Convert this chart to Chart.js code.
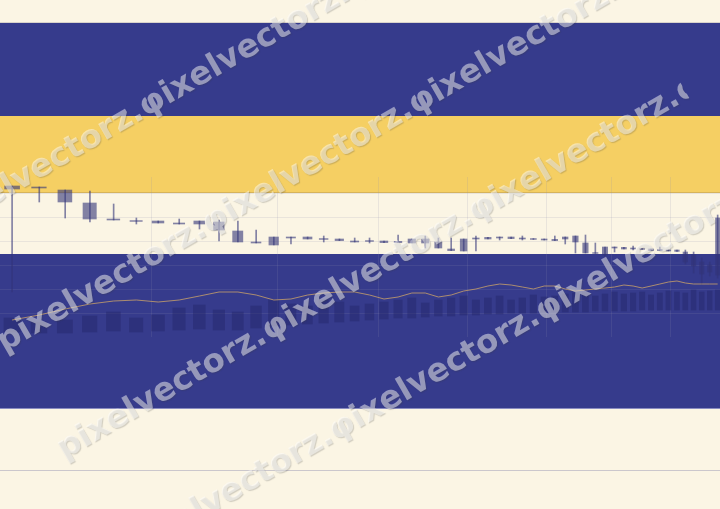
<!DOCTYPE html>
<html>
<head>
<meta charset="utf-8">
<script src="https://cdn.jsdelivr.net/npm/chart.js@4.4.1/dist/chart.umd.min.js"></script>
<style>
  html, body { margin: 0; padding: 0; background: #fbf5e4; }
  canvas { display: block; }
</style>
</head>
<body>
<canvas id="candles" width="720" height="509"></canvas>
<script>
// Session days (x values, log time axis)
const days = [20, 21, 22, 23, 24, 25, 26, 27, 28, 29, 30, 31, 32, 33, 34, 35, 36, 37, 38, 39,
    40, 41, 42, 43, 44, 45, 46, 47, 48, 49, 50, 51, 52, 53, 54, 55, 56, 57, 58, 59,
    60, 61, 62, 63, 64, 65, 66, 67, 68, 69, 70, 71];

const opens = [75.5, 75, 73.5, 67, 59, 58.2, 58, 57, 58, 57.5, 53, 47.5, 50, 50, 50, 49.2, 49, 48, 48.2, 48,
    47.8, 49, 49, 47.5, 44, 49, 49.5, 49.8, 50, 50, 49.5, 49.2, 49, 48.8, 50, 50.5, 47, 42.2, 45, 45,
    44.8, 44.5, 44.2, 44, 43.8, 43.5, 43.5, 42.5, 41, 37.5, 36, 59.5];
const closes = [74, 74.5, 67.5, 59, 58.5, 57.8, 57, 56.5, 56.5, 53.5, 47.5, 47, 46, 49.5, 49, 48.8, 48.2, 47.5, 47.8, 47.2,
    47.2, 47, 47, 44.5, 43.2, 43, 49, 49, 49.5, 49.2, 49, 48.8, 48.5, 48.2, 49, 47.5, 42, 41.8, 41, 44.5,
    44, 44, 43.8, 43.2, 43.2, 43, 42.8, 37.5, 35.5, 31.5, 32.5, 31];
const highs = [75.5, 75, 73.5, 73, 66.5, 59.5, 58, 59, 58, 58.5, 58, 53.5, 50, 50, 50, 50.5, 49, 49.5, 49.5, 48,
    51, 49, 50.5, 49.5, 49.5, 49, 50.5, 49.8, 50, 50, 50.5, 49.2, 49, 50.5, 50, 50.5, 51, 47, 45, 45,
    44.8, 45.5, 44.2, 44, 45, 43.5, 43.5, 43.5, 42.5, 39.5, 37.5, 61];
const lows = [22.5, 67.5, 59.5, 57.5, 58.5, 56.5, 57, 56.5, 54, 48, 47.5, 47, 46, 46.5, 49, 47.5, 48.2, 47.5, 47, 47.2,
    47.2, 47, 44.5, 44.5, 43.2, 43, 43, 49, 48.5, 49.2, 48.5, 48.8, 48.5, 48.2, 46.5, 42, 42, 41.8, 39.5, 42.5,
    44, 43.5, 43.8, 43.2, 43.2, 43, 42.8, 36.5, 32, 26.5, 30.5, 29.5];

// Volume bars (floating, bottom / top)
const volBase = [2.5, 2, 2, 2.5, 3, 2.5, 3, 3.5, 4, 3.5, 3.5, 4.5, 5.5, 6, 6.5, 7, 7.5, 8, 8.5, 9,
    9.5, 9.5, 10, 10.5, 10.5, 11, 11, 11.5, 11.5, 12, 12, 12, 12.5, 12.5, 12.5, 12.5, 12.5, 13, 13, 13,
    13, 13, 13.5, 13.5, 13.5, 13.5, 13.5, 13.5, 13.5, 13.5, 13.5, 13.5];
const volTop = [9.5, 7.5, 8.5, 10.5, 12.5, 9.5, 11, 14.5, 16, 13.5, 12.5, 15.5, 18.5, 16.5, 15.5, 18.5, 17.5, 15.5, 16.5, 17.5,
    18.5, 19.5, 17, 18.5, 19.5, 20.5, 18.5, 19.5, 20.5, 18.5, 19.5, 21, 20, 20.5, 21.5, 22, 22.5, 20.5, 21.5, 22.5,
    21.5, 22, 22.5, 21, 22, 23, 22.5, 22, 23.5, 22.5, 23, 23.5];

// Moving average
const movingAvg = [8.5, 11, 14, 16.5, 18, 18.5, 17.5, 18.5, 20.5, 22.5, 22.5, 21, 18.5, 19, 21, 22, 22.5, 22.5, 21, 19,
    20, 22, 22, 20, 21, 23, 24, 25.5, 26.5, 26, 25, 24, 25.5, 25.5, 24, 23, 23.5, 24, 24.5, 25,
    26, 25.5, 24.5, 25.5, 26.5, 27.5, 28, 27, 26.5, 26.5, 26.5, 26.5];

const gridDays = [25.7, 32.2, 38.6, 45.3, 52.2, 58.7, 65.2];
const gridPrices = [12, 24, 36, 48, 60, 72];

const watermark = "pixelvectorz.\u03C6ixelvectorz.\u03C6ixelvectorz.\u03C6ixelvectorz.";

const CANDLE = "rgba(50, 52, 120, 0.6)";

// background bands across the whole picture
const bandsPlugin = {
    id: "bands",
    beforeDraw(chart) {
        const ctx = chart.ctx;
        const w = chart.width;
        ctx.save();
        ctx.fillStyle = "#fbf5e4";
        ctx.fillRect(0, 0, w, chart.height);
        ctx.fillStyle = "#363b8c";
        ctx.fillRect(0, 23, w, 93);
        ctx.fillStyle = "#f5cf63";
        ctx.fillRect(0, 116, w, 76);
        ctx.fillStyle = "#363b8c";
        ctx.fillRect(0, 254, w, 154);
        ctx.fillStyle = "#d9d3cb";
        ctx.fillRect(0, 22, w, 1);
        ctx.fillStyle = "#d6b35a";
        ctx.fillRect(0, 192, w, 1);
        ctx.fillStyle = "#8a8cc0";
        ctx.fillRect(0, 408, w, 1);
        ctx.fillStyle = "#cbc7cc";
        ctx.fillRect(0, 470, w, 1);
        ctx.restore();
    },
};

// diagonal watermark lines, each cut off at the same length
const watermarkPlugin = {
    id: "watermark",
    afterDraw(chart) {
        const ctx = chart.ctx;
        const starts = [[-63, 228], [0, 345], [60, 452], [127, 552]];
        ctx.save();
        ctx.font = "bold 32.5px 'DejaVu Sans'";
        ctx.textBaseline = "middle";
        ctx.fillStyle = "rgba(255, 255, 255, 0.48)";
        ctx.shadowColor = "rgba(60, 60, 60, 0.45)";
        ctx.shadowOffsetX = 1;
        ctx.shadowOffsetY = 1;
        ctx.shadowBlur = 1;
        starts.forEach(([x, y]) => {
            ctx.save();
            ctx.translate(x, y);
            ctx.rotate(-30 * Math.PI / 180);
            ctx.beginPath();
            ctx.rect(-5, -30, 727, 60);
            ctx.clip();
            ctx.fillText(watermark, 0, 0);
            ctx.restore();
        });
        ctx.restore();
    },
};

const ctx = document.getElementById("candles").getContext("2d");

new Chart(ctx, {
    type: "bar",
    data: {
        datasets: [
            {
                label: "Wick",
                data: days.map((d, i) => ({ x: d, y: [lows[i], highs[i]] })),
                backgroundColor: CANDLE,
                barThickness: 1,
                stack: "c",
                order: 2,
            },
            {
                label: "Body",
                data: days.map((d, i) => ({ x: d, y: [opens[i], closes[i]] })),
                backgroundColor: CANDLE,
                barThickness: "flex",
                categoryPercentage: 1,
                barPercentage: 0.55,
                stack: "c",
                order: 1,
            },
            {
                label: "Volume",
                data: days.map((d, i) => ({ x: d, y: [volBase[i], volTop[i]] })),
                backgroundColor: "rgba(35, 38, 105, 0.45)",
                barThickness: "flex",
                categoryPercentage: 1,
                barPercentage: 0.6,
                stack: "c",
                yAxisID: "vol",
                order: 3,
            },
            {
                type: "line",
                label: "MA",
                data: days.map((d, i) => ({ x: d, y: movingAvg[i] })),
                borderColor: "rgba(200, 160, 105, 0.8)",
                borderWidth: 1,
                pointRadius: 0,
                tension: 0,
                order: 0,
            },
        ],
    },
    options: {
        responsive: false,
        animation: false,
        devicePixelRatio: 1,
        layout: {
            padding: { top: 177, bottom: 172, left: 0, right: 0 },
        },
        plugins: {
            legend: { display: false },
            tooltip: { enabled: false },
        },
        scales: {
            x: {
                type: "logarithmic",
                min: 19.57,
                max: 71.3,
                offset: false,
                afterBuildTicks: (axis) => {
                    axis.ticks = gridDays.map((v) => ({ value: v }));
                },
                ticks: { display: false },
                border: { display: false },
                grid: {
                    color: "rgba(140, 140, 175, 0.16)",
                    drawTicks: false,
                    offset: false,
                },
            },
            y: {
                min: 0,
                max: 80,
                stacked: false,
                afterBuildTicks: (axis) => {
                    axis.ticks = gridPrices.map((v) => ({ value: v }));
                },
                ticks: { display: false },
                border: { display: false },
                grid: {
                    color: "rgba(140, 140, 175, 0.16)",
                    drawTicks: false,
                },
            },
            vol: {
                display: false,
                stacked: false,
                min: 0,
                max: 80,
            },
        },
    },
    plugins: [bandsPlugin, watermarkPlugin],
});
</script>
</body>
</html>
